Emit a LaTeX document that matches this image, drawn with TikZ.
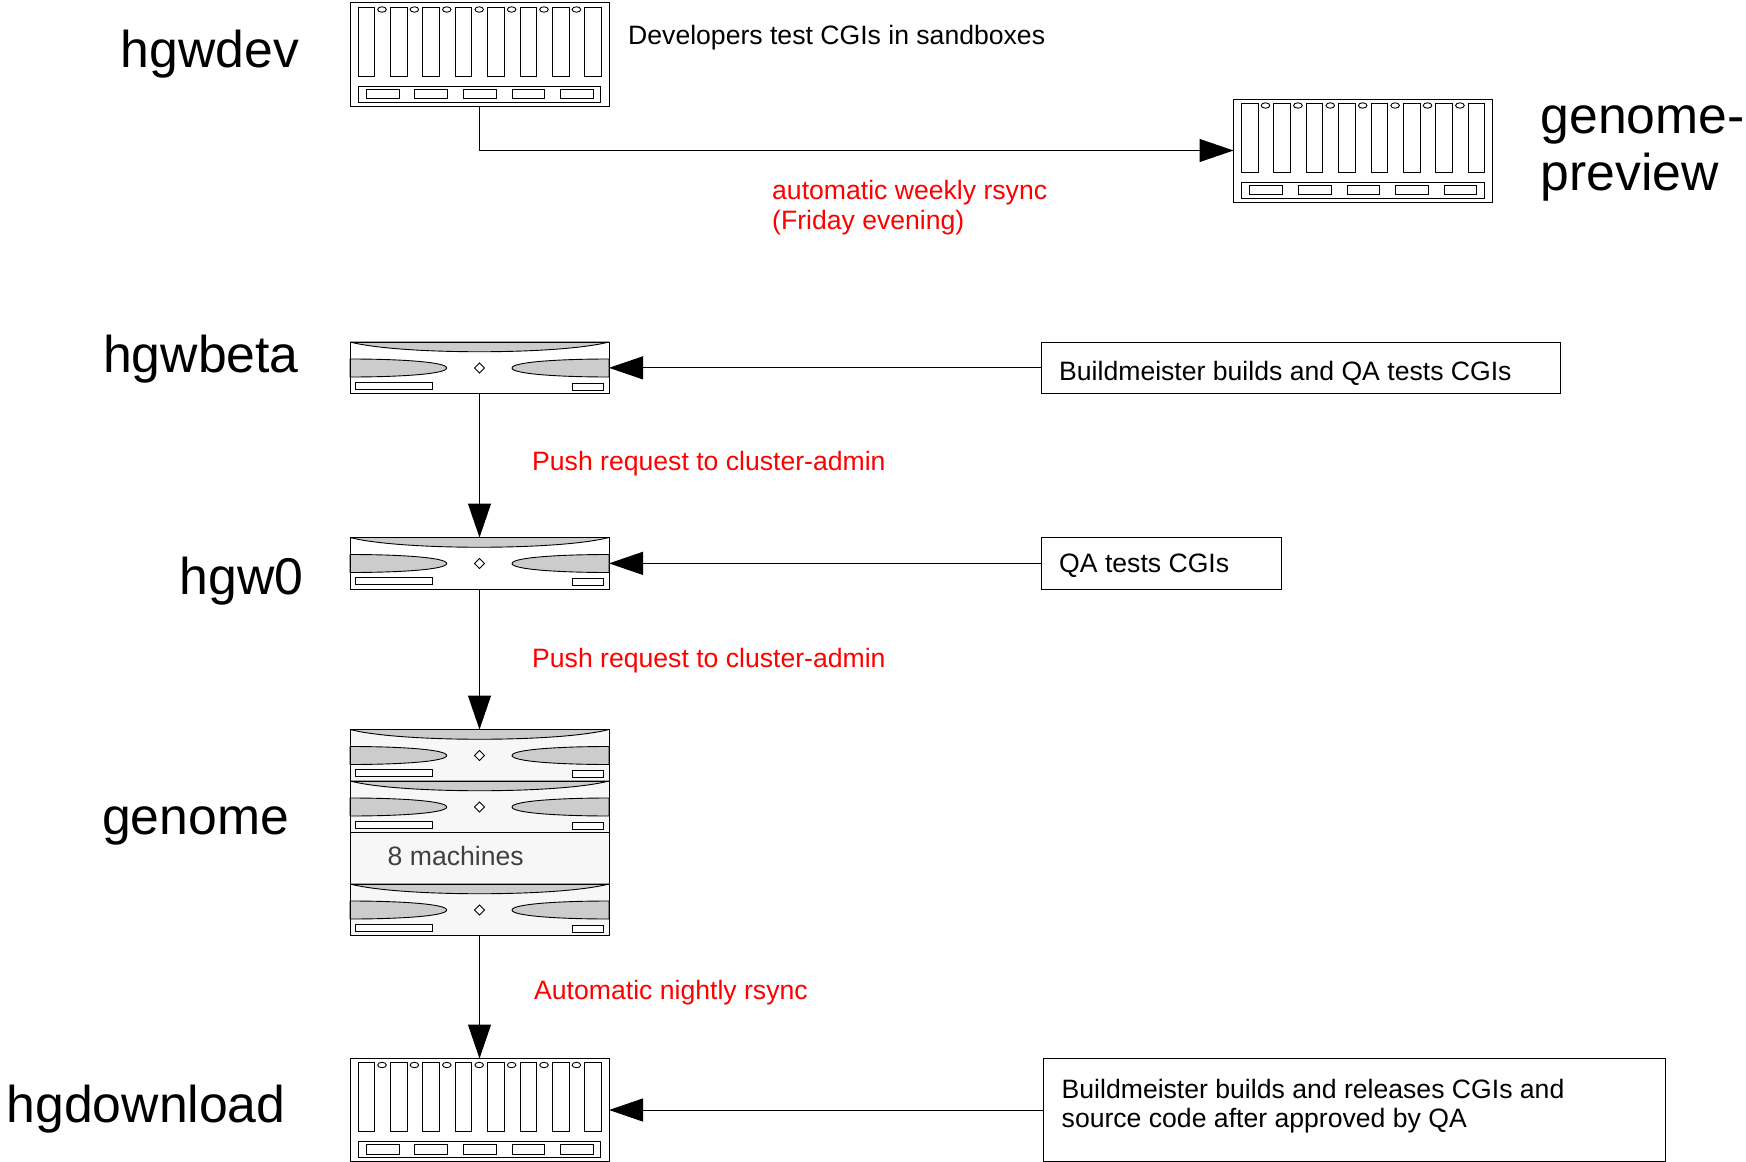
\documentclass[tikz,border=0pt]{standalone}
\usepackage{fontspec}
\setmainfont{Liberation Sans}
\usetikzlibrary{arrows.meta}
\definecolor{slotgray}{HTML}{CCCCCC}
\definecolor{panelfill}{HTML}{F7F7F7}
\definecolor{stacktext}{HTML}{404040}
\tikzset{
  x=1pt,y=-1pt,
  part/.style={draw=black,line width=0.9pt,fill=white},
  grayp/.style={draw=black,line width=0.9pt,fill=slotgray,line join=bevel},
  frame/.style={draw=black,line width=1pt,inner sep=0pt,outer sep=0pt,anchor=north west},
  flow/.style={draw=black,line width=1pt,-{Triangle[length=34pt,width=23pt]}},
  bigname/.style={font=\fontsize{51.7}{60}\selectfont,anchor=base west,inner sep=0pt,text=black},
  smalltext/.style={font=\fontsize{26.6}{30}\selectfont,anchor=base west,inner sep=0pt,text=black},
  redtext/.style={smalltext,text=red},
}
% tower server: name, x, y
\newcommand{\towerserver}[3]{%
  \node[frame,fill=white,minimum width=259pt,minimum height=103pt] (#1) at (#2,#3) {};
  \begin{scope}[shift={(#2,#3)}]
    \foreach \i in {0,...,7} {
      \draw[part] ({8+32.4*\i},4) rectangle ++(16.6,69);
    }
    \foreach \i in {0,...,6} {
      \draw[part] ({32+32.4*\i},6.5) ellipse (4.3 and 2.7);
    }
    \draw[part] (8,83) rectangle (250.7,99);
    \foreach \i in {0,...,4} {
      \draw[part] ({16.3+48.6*\i},86.3) rectangle ++(32.7,9.4);
    }
  \end{scope}}
% slim server: name, x, y, fill
\newcommand{\slimbody}[3]{%
  \begin{scope}[shift={(#1,#2)}]
    \fill[#3] (0,0) rectangle (259,51.7);
    \draw[grayp] (0,0) .. controls (50,13) and (209,13) .. (259,0) -- cycle;
    \draw[grayp] (0,17) .. controls (50,17) and (96.7,20) .. (96.7,26) .. controls (96.7,32) and (50,35) .. (0,35) -- cycle;
    \draw[grayp] (259,17) .. controls (209,17) and (162,20) .. (162,26) .. controls (162,32) and (209,35) .. (259,35) -- cycle;
    \draw[part] (129.5,21) -- (134.5,26) -- (129.5,31) -- (124.5,26) -- cycle;
    \draw[part] (5.7,40) rectangle (82.7,47);
    \draw[part] (222,41) rectangle (253.7,48);
  \end{scope}}
\newcommand{\slimserver}[4]{%
  \node[frame,minimum width=259pt,minimum height=51.7pt] (#1) at (#2,#3) {};
  \slimbody{#2}{#3}{#4}
  \draw[line width=1pt] (#2,#3) rectangle ++(259,51.7);}
\begin{document}
\begin{tikzpicture}
\useasboundingbox (0,0) rectangle (1746,1161.5);

\towerserver{hgwdev}{350}{3}
\towerserver{preview}{1233.5}{99}
\slimserver{hgwbeta}{350}{342}{white}
\slimserver{hgwzero}{350}{537.5}{white}

% genome stack
\node[frame,minimum width=259pt,minimum height=206pt] (genome) at (350,729.5) {};
\fill[panelfill] (350,729.5) rectangle ++(259,206);
\slimbody{350}{729.5}{panelfill}
\slimbody{350}{781}{panelfill}
\slimbody{350}{884}{panelfill}
\draw[line width=1pt] (350,729.5) rectangle ++(259,206);
\draw[line width=0.8pt] (350,781) -- ++(259,0);
\draw[line width=0.8pt] (350,832.7) -- ++(259,0);
\draw[line width=0.8pt] (350,884) -- ++(259,0);
\node[smalltext,text=stacktext] (machines) at (387.5,865.5) {8 machines};

\towerserver{hgdownload}{350}{1058.5}

% note boxes
\node[frame,minimum width=519pt,minimum height=51.7pt] (notebeta) at (1041,342) {};
\node[smalltext] (notebetat) at (1059,380) {Buildmeister builds and QA tests CGIs};
\node[frame,minimum width=240pt,minimum height=51.7pt] (notezero) at (1041,537.5) {};
\node[smalltext] (notezerot) at (1059,572) {QA tests CGIs};
\node[frame,minimum width=622pt,minimum height=103pt] (notedown) at (1043.5,1058.5) {};
\node[smalltext] (notedownt) at (1061.5,1098) {Buildmeister builds and releases CGIs and};
\node[smalltext] (notedownu) at (1061.5,1127) {source code after approved by QA};

% connectors
\draw[flow] (hgwdev.south) |- (preview.west);
\draw[flow] (notebeta.west) -- (hgwbeta.east);
\draw[flow] (hgwbeta.south) -- (hgwzero.north);
\draw[flow] (notezero.west) -- (hgwzero.east);
\draw[flow] (hgwzero.south) -- (genome.north);
\draw[flow] (genome.south) -- (hgdownload.north);
\draw[flow] (notedown.west) -- (hgdownload.east);

% names
\node[bigname] (lhgwdev) at (120.5,67) {hgwdev};
\node[bigname] (lprev1) at (1540.5,133) {genome-};
\node[bigname] (lprev2) at (1540.5,190) {preview};
\node[bigname] (lbeta) at (103,372) {hgwbeta};
\node[bigname] (lzero) at (179.5,594) {hgw0};
\node[bigname] (lgenome) at (102,834) {genome};
\node[bigname] (ldown) at (6.5,1122) {hgdownload};

% labels
\node[smalltext] (ldev) at (628,44.5) {Developers test CGIs in sandboxes};
\node[redtext] (r1) at (772,199) {automatic weekly rsync};
\node[redtext] (r2) at (772,229) {(Friday evening)};
\node[redtext] (r3) at (532,470) {Push request to cluster-admin};
\node[redtext] (r4) at (532,667) {Push request to cluster-admin};
\node[redtext] (r5) at (534,999) {Automatic nightly rsync};
\end{tikzpicture}
\end{document}
